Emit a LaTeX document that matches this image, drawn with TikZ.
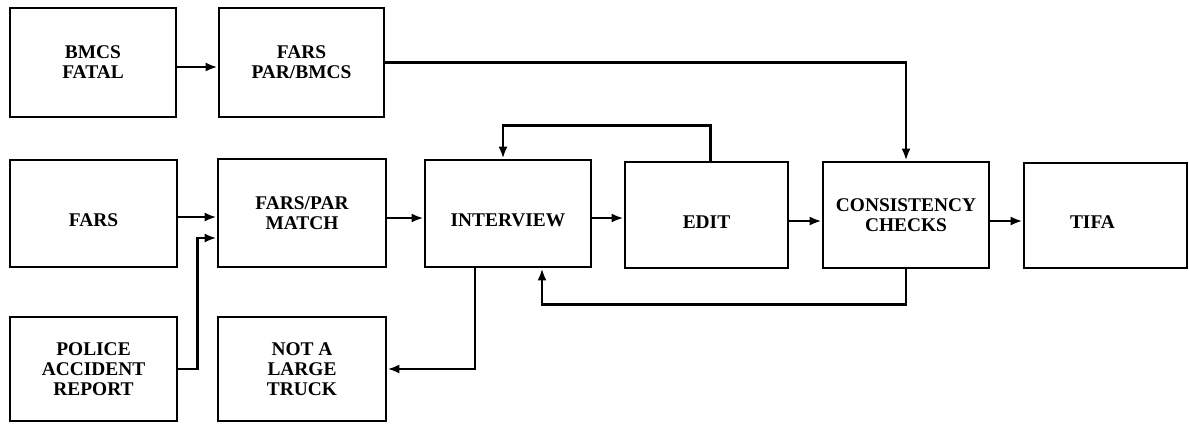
\documentclass[tikz,border=0pt]{standalone}
\usepackage{fontspec}
\setmainfont{Liberation Serif}
\usetikzlibrary{arrows.meta}
\newcommand{\lowtext}[1]{\raisebox{-13pt}[0pt][0pt]{#1}}
\begin{document}
\begin{tikzpicture}[x=1pt,y=-1pt,
  box/.style={draw=black, line width=2.8pt, fill=white, align=center,
    inner sep=0pt, font=\bfseries\fontsize{19.4}{20}\selectfont},
  arr/.style={draw=black, line width=2.6pt, -{Latex[length=12pt,width=9pt]}},
  ln/.style={draw=black, line width=2.6pt}]
\useasboundingbox (0,0) rectangle (1189,424);
% row 1
\node[box, minimum width=166pt, minimum height=109pt] (bmcs) at (93,62.5) {BMCS\\FATAL};
\node[box, minimum width=165pt, minimum height=109pt] (farspb) at (301.5,62.5) {FARS\\PAR/BMCS};
% row 2
\node[box, minimum width=167pt, minimum height=107pt] (fars) at (93.5,213.5) {\lowtext{FARS}};
\node[box, minimum width=168pt, minimum height=108pt] (fpm) at (302,213) {FARS/PAR\\MATCH};
\node[box, minimum width=166pt, minimum height=107pt] (interview) at (508,213.5) {\lowtext{INTERVIEW}};
\node[box, minimum width=163pt, minimum height=106pt] (edit) at (706.5,215) {\lowtext{EDIT}};
\node[box, minimum width=166pt, minimum height=106pt] (cons) at (906,215) {CONSISTENCY\\CHECKS};
\node[box, minimum width=163pt, minimum height=105pt] (tifa) at (1105.5,215.5) {\lowtext{TIFA\hspace*{26pt}}};
% row 3
\node[box, minimum width=167pt, minimum height=104pt] (police) at (93.5,369) {POLICE\\ACCIDENT\\REPORT};
\node[box, minimum width=168pt, minimum height=104pt] (nlt) at (302,369) {NOT A\\LARGE\\TRUCK};
% connectors
\draw[arr] ([yshift=-4.5pt]bmcs.east) -- ([yshift=-4.5pt]bmcs.east -| farspb.west);
\draw[arr] (farspb.east) -| (cons.north);
\draw[arr] ([yshift=-3.5pt]fars.east) -- ([yshift=-3.5pt]fars.east -| fpm.west);
\coordinate (pj) at ([xshift=19pt]police.east);
\draw[arr] (police.east) -- (pj) |- ([yshift=-25pt]fpm.west);
\draw[arr] ([yshift=-5pt]fpm.east) -- ([yshift=-5pt]fpm.east -| interview.west);
\draw[arr] ([yshift=-4.5pt]interview.east) -- ([yshift=-4.5pt]interview.east -| edit.west);
\draw[arr] ([yshift=-6pt]edit.east) -- ([yshift=-6pt]edit.east -| cons.west);
\draw[arr] ([yshift=-6pt]cons.east) -- ([yshift=-6pt]cons.east -| tifa.west);
\coordinate (et) at ([xshift=4pt,yshift=35pt]edit.north);
\draw[arr] ([xshift=4pt]edit.north) -- (et) -| ([xshift=-5pt]interview.north);
\coordinate (cb) at ([yshift=-35pt]cons.south);
\draw[arr] (cons.south) -- (cb) -| ([xshift=34pt]interview.south);
\draw[arr] ([xshift=-33pt]interview.south) |- (nlt.east);
\end{tikzpicture}
\end{document}
